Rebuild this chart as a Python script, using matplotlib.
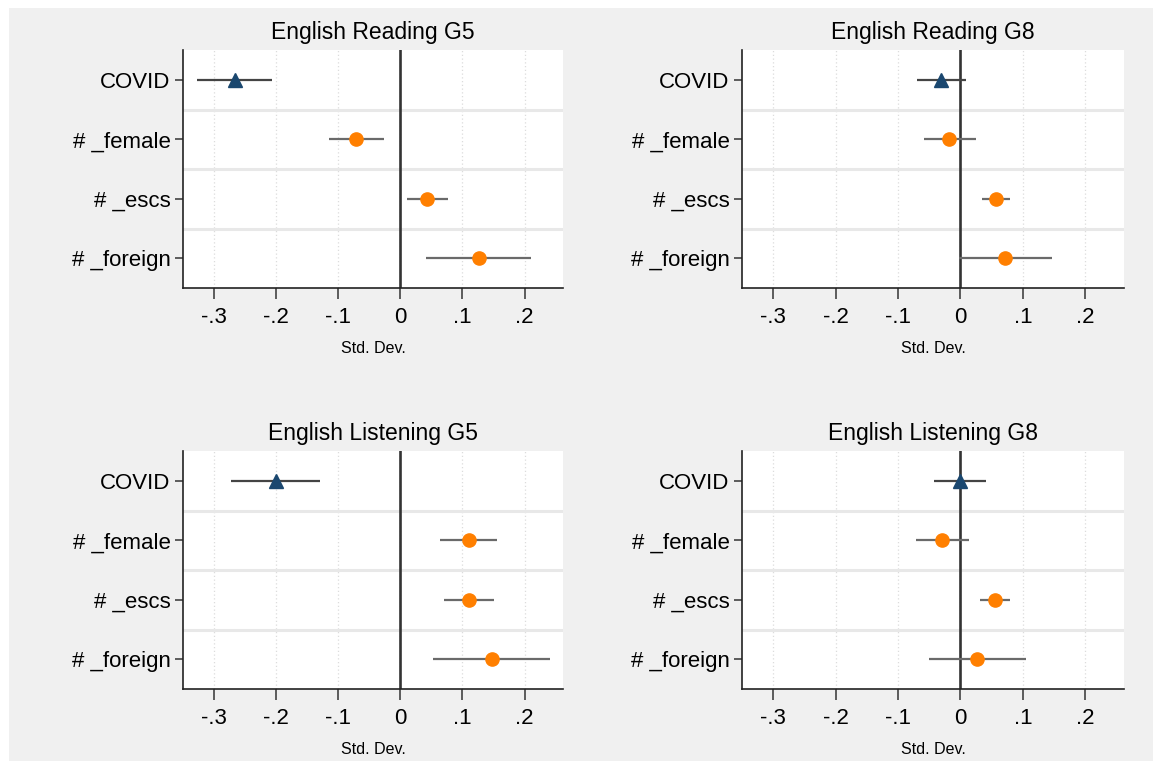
import numpy as np
import matplotlib.pyplot as plt
from matplotlib.patches import Rectangle

plt.rcParams['font.family'] = ['Liberation Sans', 'DejaVu Sans']

# coeficientes e intervalos de confiança por painel
termos = ['COVID', '# _female', '# _escs', '# _foreign']
titulos = ['English Reading G5', 'English Reading G8',
           'English Listening G5', 'English Listening G8']

coef_read_g5 = [-0.266, -0.071, 0.043, 0.126]
low_read_g5 = [-0.327, -0.115, 0.010, 0.042]
high_read_g5 = [-0.207, -0.027, 0.076, 0.211]

coef_read_g8 = [-0.031, -0.018, 0.057, 0.071]
low_read_g8 = [-0.069, -0.059, 0.034, -0.002]
high_read_g8 = [0.009, 0.025, 0.080, 0.146]

coef_list_g5 = [-0.201, 0.110, 0.111, 0.147]
low_list_g5 = [-0.272, 0.064, 0.071, 0.053]
high_list_g5 = [-0.130, 0.156, 0.151, 0.241]

coef_list_g8 = [0.000, -0.030, 0.055, 0.027]
low_list_g8 = [-0.042, -0.072, 0.032, -0.050]
high_list_g8 = [0.041, 0.013, 0.079, 0.105]

paineis = [
    (coef_read_g5, low_read_g5, high_read_g5),
    (coef_read_g8, low_read_g8, high_read_g8),
    (coef_list_g5, low_list_g5, high_list_g5),
    (coef_list_g8, low_list_g8, high_list_g8),
]

xticks = [-0.3, -0.2, -0.1, 0, 0.1, 0.2]
xticklabels = ['-.3', '-.2', '-.1', '0', '.1', '.2']

fig = plt.figure(figsize=(11.53, 7.61), dpi=100, facecolor='white')
fundo = Rectangle((9 / 1153, 0), 1, 1 - 8 / 761, transform=fig.transFigure,
                  facecolor='#f0f0f0', edgecolor='none', zorder=-10)
fig.patches.append(fundo)

posicoes = [
    [183 / 1153, 1 - 288 / 761, 380 / 1153, 238 / 761],
    [742 / 1153, 1 - 288 / 761, 382 / 1153, 238 / 761],
    [183 / 1153, 1 - 689 / 761, 380 / 1153, 238 / 761],
    [742 / 1153, 1 - 689 / 761, 382 / 1153, 238 / 761],
]

y = np.arange(1, len(termos) + 1)

for pos, titulo, (coef, low, high) in zip(posicoes, titulos, paineis):
    ax = fig.add_axes(pos)
    ax.set_facecolor('white')
    ax.set_xlim(-0.35, 0.262)
    ax.set_ylim(4.5, 0.5)

    # grade vertical pontilhada e separadores entre termos
    for xt in xticks:
        ax.axvline(xt, color='#dcdcdc', lw=0.9, ls=(0, (1, 2)), zorder=1)
    for sep in [1.5, 2.5, 3.5]:
        ax.axhline(sep, color='#e8e8e8', lw=2.2, zorder=1)
    ax.axvline(0, color='#333333', lw=1.9, zorder=2)

    for i in range(len(termos)):
        cor_linha = '#444444' if i == 0 else '#6a6a6a'
        ax.plot([low[i], high[i]], [y[i], y[i]], color=cor_linha, lw=1.6,
                solid_capstyle='butt', zorder=3)
        if i == 0:
            ax.plot(coef[i], y[i], marker='^', ms=10, color='#1a476f', zorder=4)
        else:
            ax.plot(coef[i], y[i], marker='o', ms=9.5, color='#ff7f00', zorder=4)

    ax.set_yticks(y)
    ax.set_yticklabels(termos, fontsize=16)
    ax.set_xticks(xticks)
    ax.set_xticklabels(xticklabels, fontsize=16)
    ax.tick_params(axis='y', length=6, width=1.1, color='#333333', pad=3)
    ax.tick_params(axis='x', length=8, width=1.1, color='#333333', pad=6)
    ax.set_title(titulo, fontsize=16.5, pad=8)
    ax.set_xlabel('Std. Dev.', fontsize=11.5, labelpad=9)

    for lado in ['top', 'right']:
        ax.spines[lado].set_visible(False)
    for lado in ['left', 'bottom']:
        ax.spines[lado].set_linewidth(1.2)
        ax.spines[lado].set_color('#222222')

fig.savefig('out.png', dpi=100, facecolor=fig.get_facecolor())
